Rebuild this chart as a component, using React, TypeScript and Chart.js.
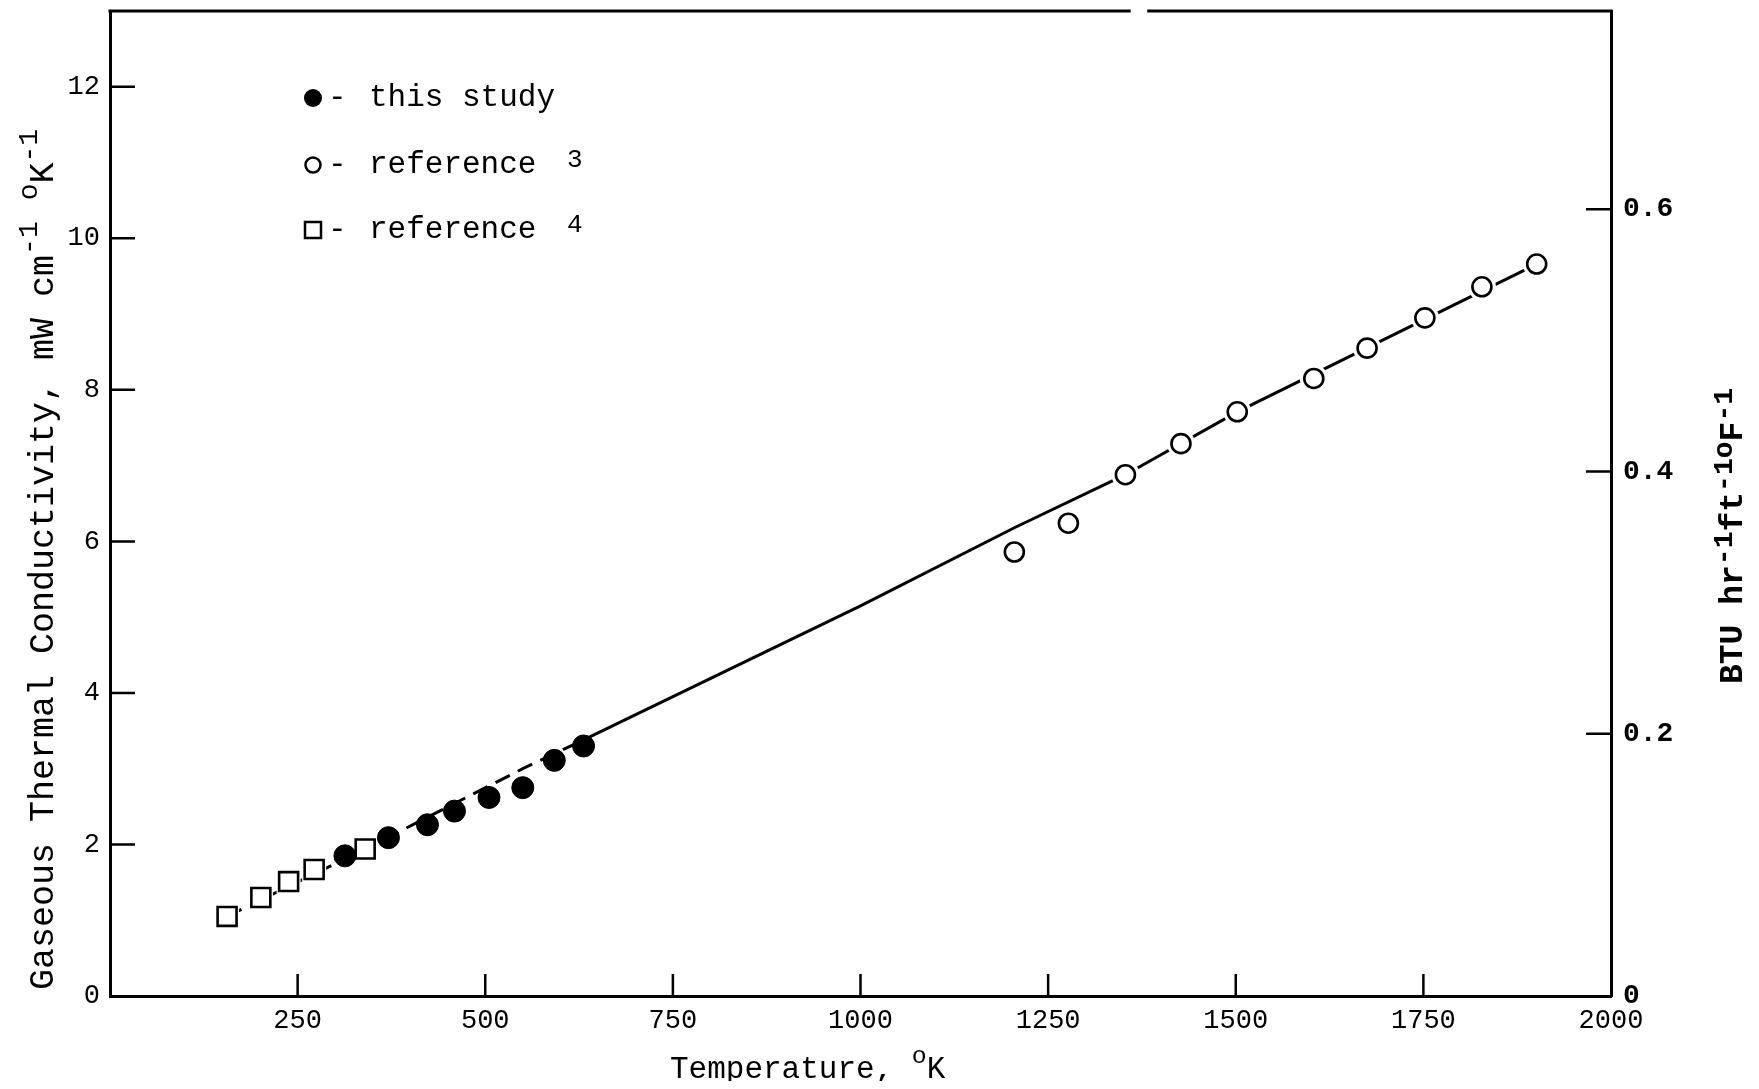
import React, { useEffect, useRef } from 'react';
import { Chart, registerables } from 'chart.js';

Chart.register(...registerables);

// ---- data ----
const ref4Temp = [156, 201, 238, 272, 340];
const ref4Cond = [1.05, 1.3, 1.51, 1.67, 1.94];

const studyTemp = [313, 371, 423, 459, 505, 550, 592, 631];
const studyCond = [1.85, 2.09, 2.26, 2.44, 2.62, 2.75, 3.11, 3.3];

const ref3Temp = [1205, 1277, 1353, 1427, 1502, 1604, 1675, 1752, 1828, 1901];
const ref3Cond = [5.86, 6.24, 6.88, 7.29, 7.71, 8.15, 8.55, 8.95, 9.36, 9.66];

const curveTemp = [156, 340, 550, 631, 1000, 1205, 1353, 1502, 1901];
const curveCond = [1.05, 1.94, 3.0, 3.38, 5.15, 6.18, 6.88, 7.71, 9.66];

const xTicks = [250, 500, 750, 1000, 1250, 1500, 1750, 2000];
const leftTicks = [0, 2, 4, 6, 8, 10, 12];
const rightTicks = [0, 0.2, 0.4, 0.6];

const legendLabels = ['this study', 'reference', 'reference'];
const legendRefs = ['', '3', '4'];

const X_MAX = 2000;
const Y_MAX = 13;
const BTU_PER_MW = 0.05778;
const DASHED_BELOW = 600;

const MONO = '"Liberation Mono", "DejaVu Sans Mono", monospace';

type Seg = { t: string; sup?: boolean };

function drawRich(
  ctx: CanvasRenderingContext2D,
  segs: Seg[],
  x: number,
  y: number,
  size: number,
  weight = 'normal',
  supScale = 0.75,
  rise = 0.42
) {
  let cx = x;
  for (const s of segs) {
    const fs = s.sup ? size * supScale : size;
    ctx.font = `${weight} ${fs}px ${MONO}`;
    ctx.fillText(s.t, cx, s.sup ? y - size * rise : y);
    cx += ctx.measureText(s.t).width;
  }
  return cx - x;
}

const toXY = (xs: number[], ys: number[]) => xs.map((x, i) => ({ x, y: ys[i] }));

const zeroPad = (s: any) => {
  s.paddingTop = 0;
  s.paddingBottom = 0;
  s.paddingLeft = 0;
  s.paddingRight = 0;
};

const decor = {
  id: 'decor',
  afterDraw(chart: any) {
    const { ctx, chartArea: a } = chart;
    const xs = chart.scales.x;
    const ys = chart.scales.y;
    const y2 = chart.scales.y2;
    ctx.save();
    ctx.strokeStyle = '#000';
    ctx.fillStyle = '#000';
    ctx.lineCap = 'butt';

    // top frame line (with the small break seen in the scan)
    ctx.lineWidth = 3;
    ctx.beginPath();
    ctx.moveTo(a.left - 1.5, a.top);
    ctx.lineTo(xs.getPixelForValue(1360), a.top);
    ctx.moveTo(xs.getPixelForValue(1382), a.top);
    ctx.lineTo(a.right + 1.5, a.top);
    ctx.stroke();

    // inward tick marks
    ctx.lineWidth = 2.5;
    ctx.beginPath();
    xTicks.forEach((v) => {
      if (v >= X_MAX) return;
      const px = xs.getPixelForValue(v);
      ctx.moveTo(px, a.bottom);
      ctx.lineTo(px, a.bottom - 22);
    });
    leftTicks.forEach((v) => {
      if (v <= 0) return;
      const py = ys.getPixelForValue(v);
      ctx.moveTo(a.left, py);
      ctx.lineTo(a.left + 25, py);
    });
    rightTicks.forEach((v) => {
      if (v <= 0) return;
      const py = y2.getPixelForValue(v);
      ctx.moveTo(a.right, py);
      ctx.lineTo(a.right - 25, py);
    });
    ctx.stroke();

    ctx.textBaseline = 'alphabetic';
    ctx.textAlign = 'left';

    // x-axis title
    drawRich(ctx, [{ t: 'Temperature, ' }, { t: 'o', sup: true }, { t: 'K' }], 662, 1070, 31, 'normal', 0.8, 0.5);

    // left y-axis title
    ctx.save();
    ctx.translate(45, 982);
    ctx.rotate(-Math.PI / 2);
    drawRich(
      ctx,
      [
        { t: 'Gaseous Thermal Conductivity, mW cm' },
        { t: '-1', sup: true },
        { t: ' ' },
        { t: 'o', sup: true },
        { t: 'K' },
        { t: '-1', sup: true },
      ],
      0,
      0,
      35,
      'normal',
      0.8,
      0.45
    );
    ctx.restore();

    // right y-axis title
    ctx.save();
    ctx.translate(1734, 676);
    ctx.rotate(-Math.PI / 2);
    drawRich(
      ctx,
      [
        { t: 'BTU hr' },
        { t: '-1', sup: true },
        { t: 'ft' },
        { t: '-1', sup: true },
        { t: 'o', sup: true },
        { t: 'F' },
        { t: '-1', sup: true },
      ],
      0,
      0,
      33,
      'bold',
      0.85,
      0.3
    );
    ctx.restore();

    // legend
    const rowsY = [90, 157, 222];
    const mx = 305;
    legendLabels.forEach((lab, i) => {
      const cy = rowsY[i];
      ctx.lineWidth = 2.5;
      ctx.beginPath();
      if (i === 0) {
        ctx.arc(mx, cy, 9, 0, Math.PI * 2);
        ctx.fill();
      } else if (i === 1) {
        ctx.arc(mx, cy, 7.5, 0, Math.PI * 2);
        ctx.stroke();
      } else {
        ctx.rect(mx - 8, cy - 8, 16, 16);
        ctx.stroke();
      }
      ctx.font = `31px ${MONO}`;
      ctx.fillText('-', 320, cy + 8);
      ctx.fillText(lab, 361, cy + 8);
      if (legendRefs[i]) {
        ctx.font = `26px ${MONO}`;
        ctx.fillText(legendRefs[i], 559, cy + 2);
      }
    });

    ctx.restore();
  },
};

export default function App() {
  const ref = useRef<HTMLCanvasElement | null>(null);

  useEffect(() => {
    if (!ref.current) return;
    const tickFont = { family: MONO, size: 27 };
    const chart = new Chart(ref.current, {
      type: 'scatter',
      data: {
        datasets: [
          {
            label: 'this study',
            data: toXY(studyTemp, studyCond),
            pointStyle: 'circle',
            pointRadius: 11,
            pointBackgroundColor: '#000',
            pointBorderColor: '#000',
            pointBorderWidth: 1,
            order: 1,
          },
          {
            label: 'reference 3',
            data: toXY(ref3Temp, ref3Cond),
            pointStyle: 'circle',
            pointRadius: 9.5,
            pointBackgroundColor: '#fff',
            pointBorderColor: '#000',
            pointBorderWidth: 2.6,
            order: 1,
          },
          {
            label: 'reference 4',
            data: toXY(ref4Temp, ref4Cond),
            pointStyle: 'rect',
            pointRadius: 13.4,
            pointBackgroundColor: '#fff',
            pointBorderColor: '#000',
            pointBorderWidth: 2.6,
            order: 1,
          },
          {
            label: 'halo3',
            data: toXY(ref3Temp, ref3Cond),
            pointStyle: 'circle',
            pointRadius: 14,
            pointBackgroundColor: '#fff',
            pointBorderWidth: 0,
            order: 5,
          },
          {
            label: 'halo4',
            data: toXY(ref4Temp, ref4Cond),
            pointStyle: 'rect',
            pointRadius: 17,
            pointBackgroundColor: '#fff',
            pointBorderWidth: 0,
            order: 5,
          },
          {
            label: 'curve',
            data: toXY(curveTemp, curveCond),
            showLine: true,
            pointRadius: 0,
            borderColor: '#000',
            borderWidth: 3,
            tension: 0,
            order: 10,
            segment: {
              borderDash: (c: any) => (c.p0.parsed.x < DASHED_BELOW ? [16, 9] : undefined),
            },
          } as any,
        ],
      },
      options: {
        animation: false,
        responsive: false,
        events: [],
        layout: { padding: { top: 3, left: 0, right: 0, bottom: 0 }, autoPadding: false } as any,
        plugins: {
          legend: { display: false },
          tooltip: { enabled: false },
        },
        scales: {
          x: {
            type: 'linear',
            position: 'bottom',
            min: 0,
            max: X_MAX,
            grid: { display: false, drawTicks: false },
            border: { display: true, color: '#000', width: 3 },
            ticks: {
              color: '#000',
              font: tickFont,
              padding: 9,
              maxRotation: 0,
              autoSkip: false,
              callback: (v: any) => String(v),
            },
            afterBuildTicks: (s: any) => {
              s.ticks = xTicks.map((v) => ({ value: v }));
            },
            afterFit: (s: any) => {
              s.height = 85;
              zeroPad(s);
            },
          },
          y: {
            type: 'linear',
            position: 'left',
            min: 0,
            max: Y_MAX,
            grid: { display: false, drawTicks: false },
            border: { display: true, color: '#000', width: 3 },
            ticks: { color: '#000', font: tickFont, padding: 10, autoSkip: false, callback: (v: any) => String(v) },
            afterBuildTicks: (s: any) => {
              s.ticks = leftTicks.map((v) => ({ value: v }));
            },
            afterFit: (s: any) => {
              s.width = 102;
              zeroPad(s);
            },
          },
          y2: {
            type: 'linear',
            position: 'right',
            min: 0,
            max: Y_MAX * BTU_PER_MW,
            grid: { display: false, drawTicks: false },
            border: { display: true, color: '#000', width: 3 },
            ticks: {
              color: '#000',
              font: { family: MONO, size: 28, weight: 'bold' },
              padding: 12,
              autoSkip: false,
              callback: (v: any) => (Number(v) === 0 ? '0' : Number(v).toFixed(1)),
            },
            afterBuildTicks: (s: any) => {
              s.ticks = rightTicks.map((v) => ({ value: v }));
            },
            afterFit: (s: any) => {
              s.width = 140;
              zeroPad(s);
            },
          },
        },
      } as any,
      plugins: [decor],
    });
    return () => chart.destroy();
  }, []);

  return (
    <div style={{ width: 1743, height: 1073, background: '#fff' }}>
      <canvas ref={ref} width={1743} height={1073} style={{ display: 'block' }} />
    </div>
  );
}
